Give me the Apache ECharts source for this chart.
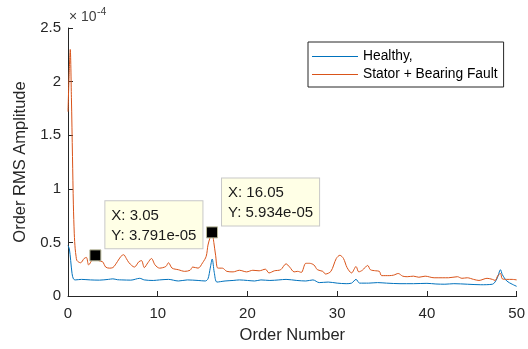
<!DOCTYPE html>
<html>
<head>
<meta charset="utf-8">
<script src="https://cdn.jsdelivr.net/npm/echarts@6/dist/echarts.min.js"></script>
<style>
  html, body { margin: 0; padding: 0; background: #fff; }
  #chart { width: 528px; height: 349px; }
</style>
</head>
<body>
<div id="chart"></div>
<script>
// amplitudes are in units of 1e-4 (axis shows x10^-4)
var healthyOrders = [0, 0.15, 0.3, 0.45, 0.6, 0.8, 1.5, 2.5, 3.5, 4.5, 5.0, 5.5, 6.0, 7.0, 8.0, 8.5, 9.5, 10.2,
    11.2, 12.3, 13.3, 14.5, 15.3, 15.6, 15.85, 16.07, 16.3, 16.6, 17.5, 18.4, 19.1, 20.0, 20.8, 21.5, 22.5,
    23.5, 24.3, 25.5, 26.5, 27.3, 28.0, 29.0, 30.0, 31.0, 31.6, 32.1, 32.5, 33.5, 34.5, 35.5, 37, 38.5, 40,
    41, 42, 43, 44.5, 46, 47.3, 47.8, 48.2, 48.4, 48.9, 49.5, 50];
var healthyAmp = [0.47, 0.44, 0.33, 0.21, 0.16, 0.15, 0.155, 0.15, 0.148, 0.155, 0.16, 0.152, 0.15, 0.148, 0.165,
    0.15, 0.145, 0.15, 0.155, 0.14, 0.15, 0.145, 0.14, 0.16, 0.26, 0.345, 0.22, 0.13, 0.14, 0.145, 0.15, 0.145,
    0.14, 0.15, 0.145, 0.15, 0.155, 0.145, 0.14, 0.15, 0.125, 0.13, 0.12, 0.115, 0.12, 0.155, 0.12, 0.12,
    0.125, 0.12, 0.115, 0.115, 0.118, 0.112, 0.11, 0.115, 0.11, 0.105, 0.11, 0.16, 0.245, 0.2, 0.14, 0.11, 0.09];

var faultOrders = [0, 0.12, 0.25, 0.38, 0.5, 0.6, 0.7, 0.8, 0.9, 1.0, 1.4, 1.8, 2.05, 2.3, 2.7, 3.05, 3.4, 3.85,
    4.2, 4.6, 5.0, 5.5, 5.9, 6.2, 6.5, 6.8, 7.4, 7.9, 8.2, 8.5, 8.9, 9.3, 9.7, 10.2, 10.9, 11.2, 11.6, 12.3,
    13.0, 13.6, 13.9, 14.5, 15.0, 15.4, 15.6, 15.85, 16.05, 16.25, 16.45, 16.7, 17.2, 17.7, 18.4, 19.1, 19.9,
    20.6, 21.3, 22.0, 22.4, 23.0, 23.7, 24.3, 24.7, 25.2, 25.6, 26.0, 26.5, 26.9, 27.4, 27.8, 28.4, 28.7,
    29.3, 29.9, 30.3, 30.7, 31.1, 31.6, 32.1, 32.4, 32.8, 33.4, 33.7, 34.3, 34.7, 34.95, 35.8, 36.3, 36.8,
    37.3, 37.8, 38.5, 39.1, 39.8, 40.8, 41.7, 42.4, 43.4, 43.9, 44.5, 45.2, 45.8, 46.7, 47.3, 47.6, 47.9,
    48.2, 48.4, 48.9, 49.5, 50];
var faultAmp = [1.72, 2.05, 2.30, 1.85, 1.30, 0.85, 0.58, 0.44, 0.37, 0.33, 0.31, 0.35, 0.36, 0.29, 0.34, 0.3791,
    0.33, 0.32, 0.27, 0.26, 0.265, 0.32, 0.37, 0.385, 0.35, 0.31, 0.27, 0.32, 0.33, 0.265, 0.31, 0.35, 0.29,
    0.26, 0.275, 0.31, 0.26, 0.245, 0.23, 0.24, 0.27, 0.26, 0.31, 0.37, 0.475, 0.55, 0.5934, 0.50, 0.38, 0.26,
    0.26, 0.23, 0.225, 0.24, 0.225, 0.24, 0.235, 0.25, 0.215, 0.235, 0.245, 0.30, 0.27, 0.225, 0.23, 0.22,
    0.305, 0.305, 0.29, 0.245, 0.23, 0.205, 0.23, 0.35, 0.38, 0.35, 0.265, 0.215, 0.275, 0.225, 0.24, 0.285,
    0.245, 0.235, 0.23, 0.19, 0.19, 0.195, 0.21, 0.185, 0.18, 0.185, 0.175, 0.185, 0.17, 0.17, 0.17, 0.18,
    0.165, 0.17, 0.155, 0.145, 0.165, 0.155, 0.145, 0.19, 0.21, 0.16, 0.155, 0.155, 0.15];

// data tips: [order, amplitude, text lines]
var tips = [
    [3.05, 0.3791, 'X: 3.05', 'Y: 3.791e-05'],
    [16.05, 0.5934, 'X: 16.05', 'Y: 5.934e-05']
];

var xTicks = { min: 0, max: 50, interval: 10 };
var yTicks = { min: 0, max: 2.5, interval: 0.5 };

function pairs(xs, ys) {
    var out = [];
    for (var i = 0; i < xs.length; i++) out.push([xs[i], ys[i]]);
    return out;
}

var font = '"Liberation Sans", Arial, Helvetica, sans-serif';
var axisColor = '#262626';

var myChart = echarts.init(document.getElementById('chart'), null, { renderer: 'canvas' });

var option = {
    animation: false,
    textStyle: { fontFamily: font },
    grid: { left: 68, right: 10, top: 28, bottom: 51 },
    legend: {
        orient: 'vertical',
        left: 308,
        top: 42,
        icon: 'rect',
        itemWidth: 46,
        itemHeight: 1.2,
        itemGap: 3,
        padding: [7, 6, 5, 4],
        borderColor: axisColor,
        borderWidth: 1,
        backgroundColor: '#fff',
        textStyle: { fontSize: 13.8, color: '#000', fontFamily: font, lineHeight: 15 },
        data: ['Healthy,', 'Stator + Bearing Fault']
    },
    xAxis: {
        type: 'value',
        min: xTicks.min, max: xTicks.max, interval: xTicks.interval,
        name: 'Order Number',
        nameLocation: 'middle',
        nameGap: 31,
        nameTextStyle: { fontSize: 16.5, color: axisColor, fontFamily: font },
        axisLine: { lineStyle: { color: axisColor, width: 1 } },
        axisTick: { inside: true, length: 5, lineStyle: { color: axisColor } },
        axisLabel: { fontSize: 15, color: axisColor, margin: 10, fontFamily: font },
        splitLine: { show: false }
    },
    yAxis: {
        type: 'value',
        min: yTicks.min, max: yTicks.max, interval: yTicks.interval,
        name: 'Order RMS Amplitude',
        nameLocation: 'middle',
        nameGap: 27,
        nameTextStyle: { fontSize: 16.5, color: axisColor, fontFamily: font },
        axisLine: { show: true, lineStyle: { color: axisColor, width: 1 } },
        axisTick: { show: true, inside: true, length: 5, lineStyle: { color: axisColor } },
        axisLabel: { fontSize: 15, color: axisColor, margin: 7, fontFamily: font },
        splitLine: { show: false }
    },
    graphic: [
        { type: 'text', left: 69, top: 10, style: { text: '× 10', fontSize: 14, fill: '#404040', fontFamily: font } },
        { type: 'text', left: 97, top: 7, style: { text: '-4', fontSize: 10.5, fill: '#404040', fontFamily: font } }
    ],
    series: [
        {
            name: 'Healthy,',
            type: 'line',
            data: pairs(healthyOrders, healthyAmp),
            showSymbol: false,
            symbol: 'none',
            smooth: 0.3,
            lineStyle: { color: '#0072BD', width: 1 },
            itemStyle: { color: '#0072BD' }
        },
        {
            name: 'Stator + Bearing Fault',
            type: 'line',
            data: pairs(faultOrders, faultAmp),
            showSymbol: false,
            symbol: 'none',
            smooth: 0.3,
            lineStyle: { color: '#D95319', width: 1 },
            itemStyle: { color: '#D95319' },
            markPoint: {
                symbol: 'rect',
                symbolSize: 11,
                itemStyle: { color: '#000', borderColor: '#b9b99a', borderWidth: 1 },
                label: {
                    show: true,
                    position: [16, -48],
                    formatter: function (p) { return p.data.tipText; },
                    backgroundColor: '#ffffe6',
                    borderColor: '#c8c8c8',
                    borderWidth: 1,
                    padding: [4, 6, 3, 6],
                    lineHeight: 20,
                    fontSize: 15,
                    color: '#1a1a1a',
                    fontFamily: font
                },
                data: tips.map(function (t) {
                    return { coord: [t[0], t[1]], tipText: t[2] + '\n' + t[3] };
                })
            }
        }
    ]
};

myChart.setOption(option);
</script>
</body>
</html>
